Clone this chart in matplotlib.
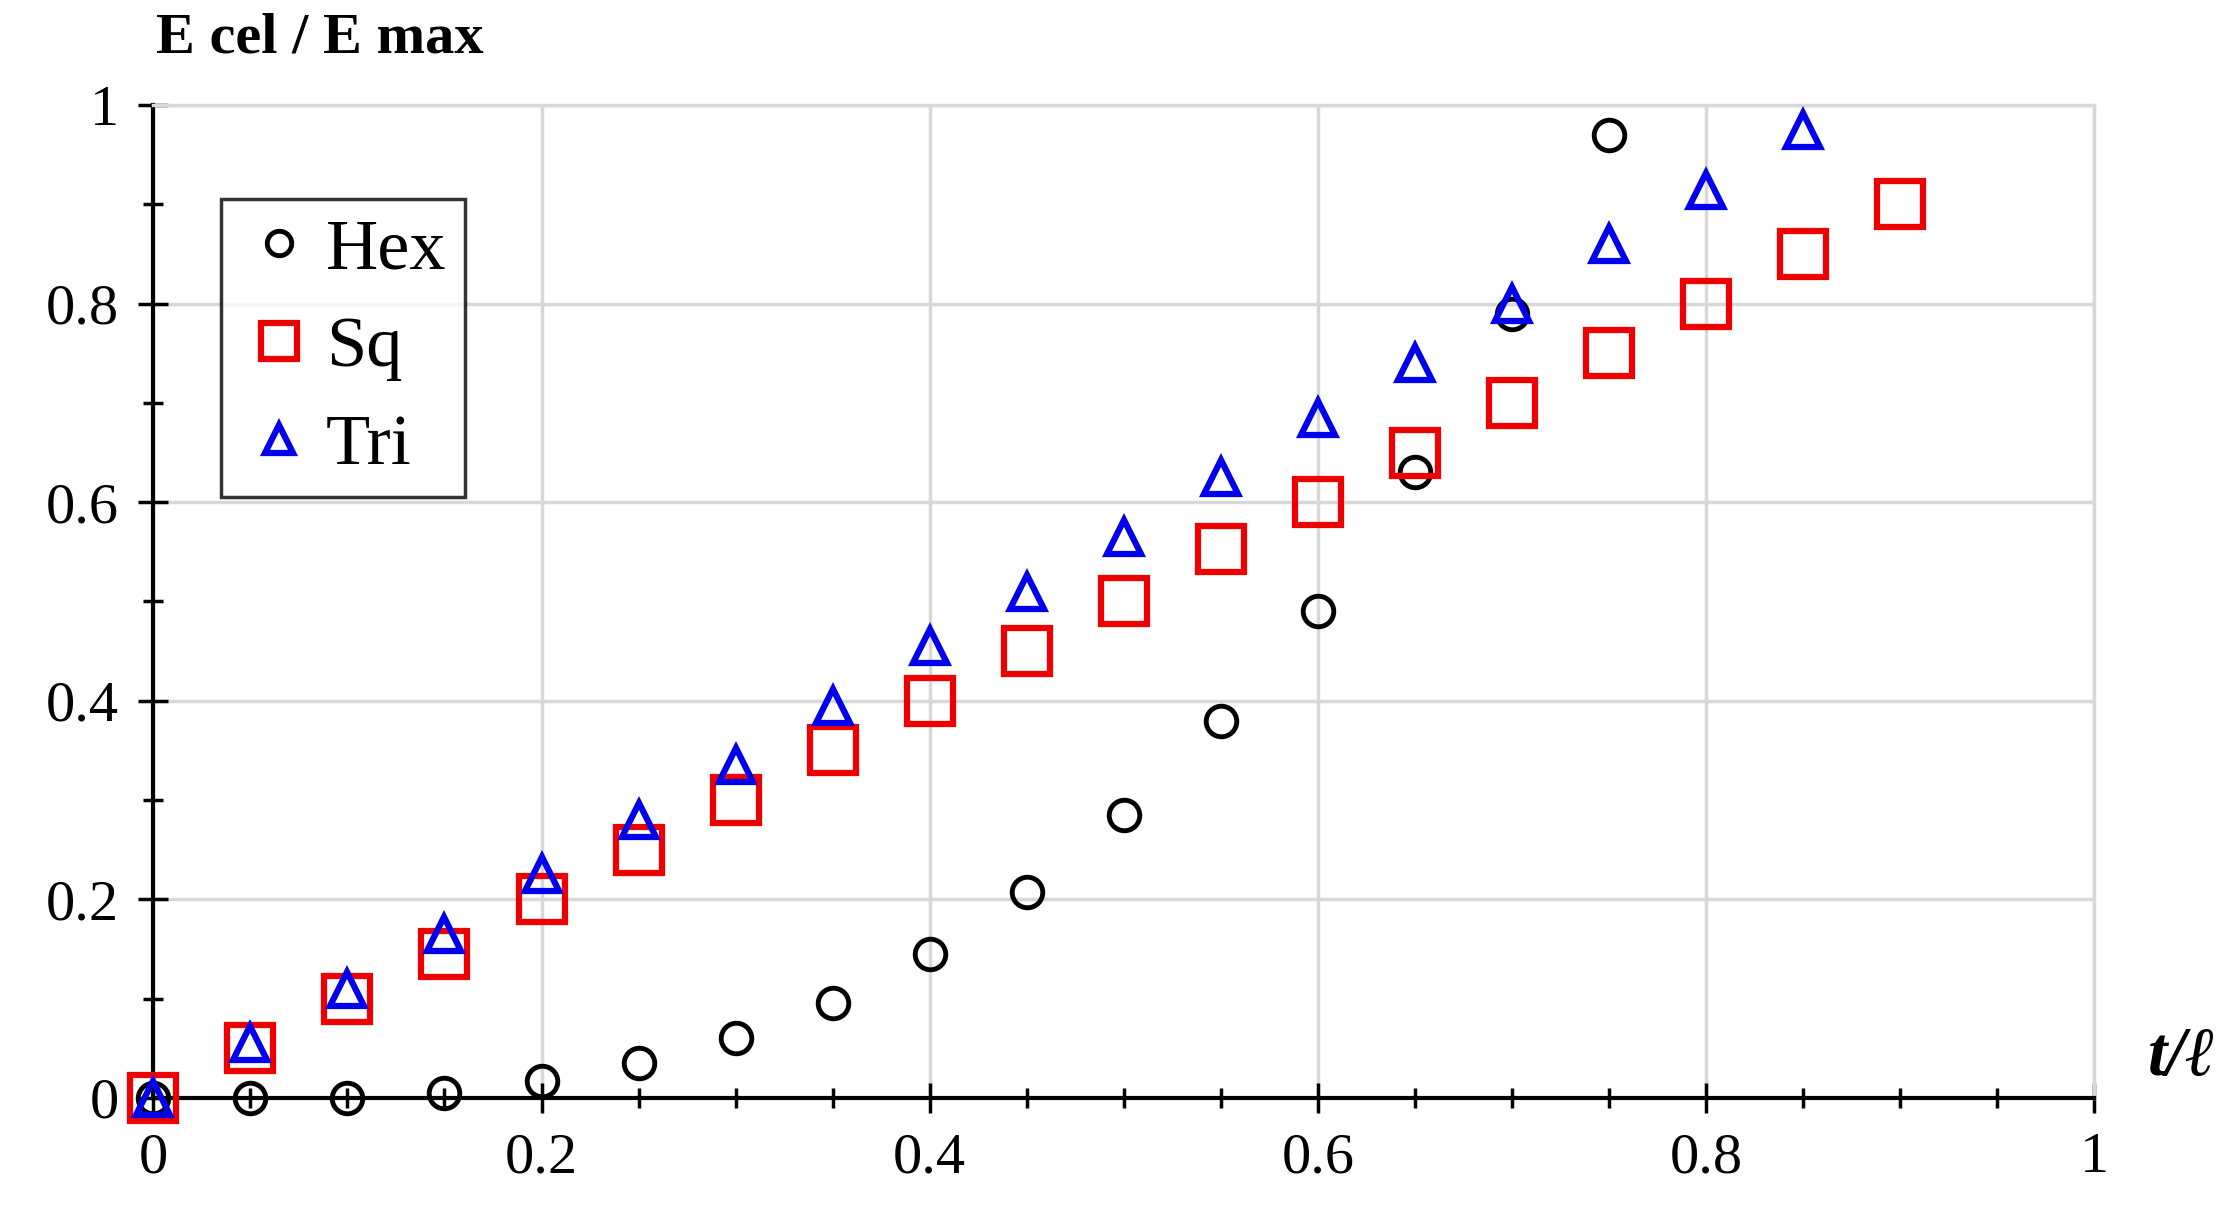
import matplotlib.pyplot as plt
from matplotlib.ticker import MultipleLocator

hex_x = [0, 0.05, 0.1, 0.15, 0.2, 0.25, 0.3, 0.35, 0.4, 0.45, 0.5, 0.55, 0.6, 0.65, 0.7, 0.75]
hex_y = [0, 0.0, 0.0, 0.005, 0.017, 0.035, 0.06, 0.095, 0.145, 0.207, 0.285, 0.38, 0.49, 0.63, 0.79, 0.97]
sq_x = [0, 0.05, 0.1, 0.15, 0.2, 0.25, 0.3, 0.35, 0.4, 0.45, 0.5, 0.55, 0.6, 0.65, 0.7, 0.75, 0.8, 0.85, 0.9]
sq_y = [0, 0.05, 0.1, 0.145, 0.2, 0.25, 0.3, 0.35, 0.4, 0.45, 0.5, 0.553, 0.6, 0.65, 0.7, 0.75, 0.8, 0.85, 0.9]
tri_x = [0, 0.05, 0.1, 0.15, 0.2, 0.25, 0.3, 0.35, 0.4, 0.45, 0.5, 0.55, 0.6, 0.65, 0.7, 0.75, 0.8, 0.85]
tri_y = [0, 0.055, 0.11, 0.165, 0.225, 0.28, 0.335, 0.395, 0.455, 0.51, 0.565, 0.625, 0.685, 0.74, 0.8, 0.86, 0.915, 0.975]

plt.rcParams['font.family'] = ['Liberation Serif', 'DejaVu Serif']

fig = plt.figure(figsize=(22.23, 12.09), dpi=100)
ax = fig.add_axes([0.069, 0.092, 0.873, 0.821])

ax.plot(hex_x, hex_y, 'o', ms=22, mfc='none', mec='black', mew=3.5, label='Hex', clip_on=False, zorder=3)
ax.plot(sq_x, sq_y, 's', ms=33, mfc='none', mec='#ee0000', mew=4.5, label='Sq', clip_on=False, zorder=3)
ax.plot(tri_x, tri_y, '^', ms=25, mfc='none', mec='#0000ee', mew=4.5, label='Tri', clip_on=False, zorder=4)

ax.set_xlim(0, 1)
ax.set_ylim(0, 1)
ax.xaxis.set_major_locator(MultipleLocator(0.2))
ax.xaxis.set_minor_locator(MultipleLocator(0.05))
ax.yaxis.set_major_locator(MultipleLocator(0.2))
ax.yaxis.set_minor_locator(MultipleLocator(0.1))
ax.xaxis.set_major_formatter(plt.FuncFormatter(lambda v, p: f'{v:g}'))
ax.yaxis.set_major_formatter(plt.FuncFormatter(lambda v, p: f'{v:g}'))
ax.grid(True, which='major', color='#d8d8d8', lw=2.5)
ax.set_axisbelow(True)
ax.tick_params(axis='both', which='both', direction='inout', length=22, width=2.5, labelsize=42, pad=14)
ax.tick_params(axis='both', which='minor', length=14)
for s in ['left', 'bottom']:
    ax.spines[s].set_linewidth(3)
for s in ['top', 'right']:
    ax.spines[s].set_color('#d8d8d8')
    ax.spines[s].set_linewidth(2.5)

fig.text(0.07, 0.968, 'E cel / E max', fontsize=42, fontweight='bold', ha='left', va='center')
fig.text(0.997, 0.125, 't/ℓ', fontsize=50, fontweight='bold', style='italic', ha='right', va='center')

leg = ax.legend(loc='upper left', bbox_to_anchor=(0.035, 0.905), fontsize=52, frameon=True, fancybox=False,
                edgecolor='black', handletextpad=0.1, borderpad=0.25, labelspacing=0.45, handlelength=1.1,
                markerscale=0.8, borderaxespad=0)
leg.get_frame().set_linewidth(2.5)

fig.savefig('out.png')
